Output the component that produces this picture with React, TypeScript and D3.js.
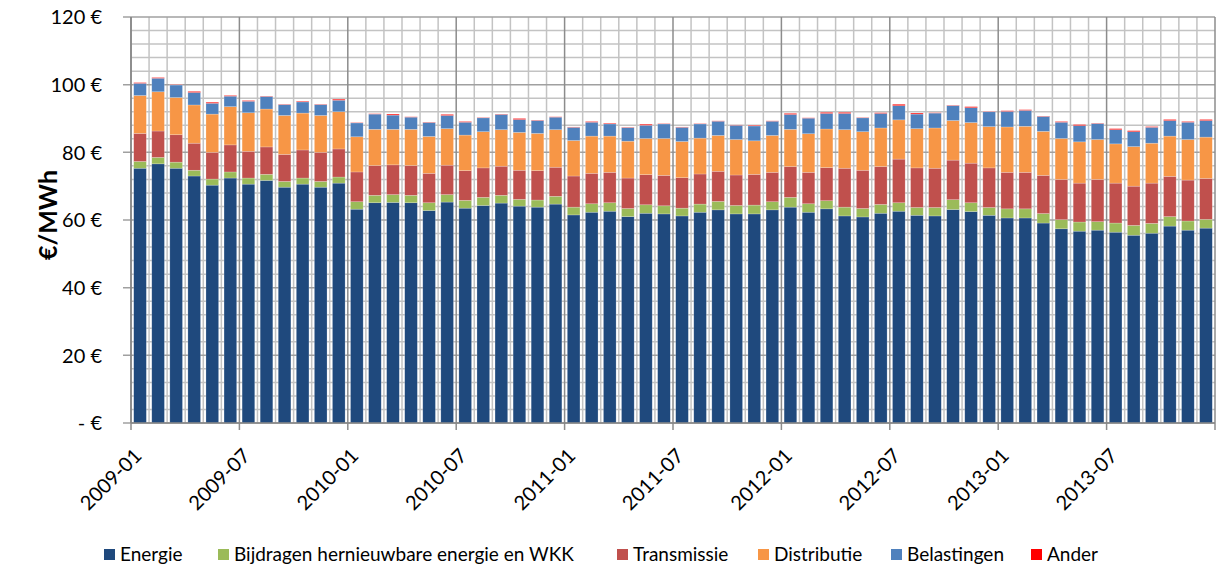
import React from "react";
import * as d3 from "d3";

const years = [2009, 2010, 2011, 2012, 2013];
const monthNums = ["01", "02", "03", "04", "05", "06", "07", "08", "09", "10", "11", "12"];
const months: string[] = years.flatMap((y) => monthNums.map((m) => `${y}-${m}`));

const seriesNames = ["Energie", "Bijdragen hernieuwbare energie en WKK", "Transmissie", "Distributie", "Belastingen", "Ander"];
const seriesColors = ["#1F497D", "#9BBB59", "#C0504D", "#F79646", "#4F81BD", "#FF0000"];

const energie = [
  75.3, 76.6, 75.3, 73.0, 70.3, 72.4, 70.6, 71.7, 69.7, 70.6, 69.7, 70.9,
  63.2, 65.1, 65.2, 65.1, 62.8, 65.3, 63.5, 64.3, 65.0, 64.1, 63.8, 64.7,
  61.5, 62.3, 62.6, 61.0, 62.0, 61.8, 61.2, 62.3, 63.0, 61.8, 61.8, 63.0,
  63.8, 62.3, 63.3, 61.2, 60.9, 62.0, 62.6, 61.4, 61.2, 63.1, 62.5, 61.4,
  60.6, 60.6, 59.1, 57.4, 56.7, 57.0, 56.4, 55.5, 56.1, 58.2, 57.0, 57.6,
];
const bijdragen = [
  2.0, 1.9, 1.8, 1.7, 1.8, 1.8, 1.8, 1.8, 1.7, 1.8, 1.7, 1.8,
  2.2, 2.2, 2.3, 2.2, 2.3, 2.2, 2.3, 2.4, 2.3, 2.0, 2.1, 2.3,
  2.3, 2.5, 2.5, 2.4, 2.5, 2.4, 2.3, 2.4, 2.5, 2.5, 2.6, 2.4,
  2.9, 2.5, 2.4, 2.6, 2.5, 2.6, 2.5, 2.3, 2.5, 2.9, 2.6, 2.3,
  2.7, 2.7, 2.8, 2.7, 2.7, 2.5, 2.7, 2.9, 2.9, 2.8, 2.7, 2.6,
];
const transmissie = [
  8.3, 7.8, 8.1, 8.0, 7.9, 8.0, 7.9, 8.1, 8.0, 8.3, 8.6, 8.3,
  8.8, 8.8, 8.8, 8.8, 8.7, 8.7, 8.8, 8.7, 8.6, 8.6, 8.7, 8.6,
  9.2, 9.0, 9.0, 9.0, 8.9, 9.0, 9.0, 8.9, 8.9, 9.0, 9.1, 8.7,
  9.1, 9.3, 9.8, 11.5, 11.3, 11.2, 12.9, 11.7, 11.6, 11.7, 11.7, 11.7,
  10.8, 10.8, 11.3, 11.9, 11.5, 12.5, 11.8, 11.6, 11.9, 11.9, 12.1, 12.1,
];
const distributie = [
  11.2, 11.6, 11.0, 11.3, 11.3, 11.3, 11.4, 11.2, 11.5, 10.9, 10.9, 11.0,
  10.4, 10.7, 10.5, 10.7, 10.9, 10.8, 10.5, 10.7, 10.8, 11.2, 11.0, 11.1,
  10.5, 11.0, 10.7, 10.9, 10.7, 10.9, 10.7, 10.6, 10.6, 10.5, 9.9, 10.9,
  11.0, 11.4, 11.4, 11.4, 11.4, 11.4, 11.6, 11.6, 11.9, 11.7, 12.0, 12.2,
  13.4, 13.6, 13.0, 12.1, 12.2, 11.8, 11.6, 11.7, 11.8, 11.9, 12.0, 12.2,
];
const belastingen = [
  3.6, 4.0, 3.7, 3.7, 3.2, 3.1, 3.4, 3.7, 3.2, 3.3, 3.2, 3.4,
  4.1, 4.5, 4.2, 3.6, 4.1, 3.9, 3.8, 4.1, 4.5, 3.8, 3.8, 3.7,
  3.9, 4.1, 3.6, 4.0, 3.9, 4.3, 4.2, 4.2, 4.2, 4.2, 4.4, 4.2,
  4.4, 4.6, 4.6, 4.8, 4.1, 4.3, 4.2, 4.3, 4.4, 4.4, 4.4, 4.4,
  4.6, 4.7, 4.4, 4.8, 4.8, 4.7, 4.2, 4.4, 4.7, 4.6, 5.1, 4.9,
];
const ander = [
  0.2, 0.2, 0.1, 0.3, 0.3, 0.2, 0.2, 0.1, 0.1, 0.2, 0.1, 0.3,
  0.1, 0.1, 0.3, 0.1, 0.1, 0.3, 0.2, 0.1, 0.1, 0.3, 0.1, 0.1,
  0.1, 0.2, 0.2, 0.1, 0.3, 0.1, 0.1, 0.1, 0.1, 0.1, 0.2, 0.1,
  0.3, 0.1, 0.3, 0.3, 0.1, 0.2, 0.4, 0.3, 0.1, 0.1, 0.3, 0.1,
  0.2, 0.2, 0.1, 0.2, 0.3, 0.1, 0.3, 0.3, 0.2, 0.3, 0.2, 0.3,
];

const yTicks = [0, 20, 40, 60, 80, 100, 120];
const yMinorStep = 4;
const labelEvery = 6;

const W = 1218;
const H = 566;
const M = { left: 131, right: 1215, top: 17, bottom: 423 };
const FONT = "Lato, 'Open Sans', sans-serif";
const legendX = [104, 218, 617, 758, 891, 1031];

export default function App() {
  const seriesData = [energie, bijdragen, transmissie, distributie, belastingen, ander];
  const rows = months.map((m, i) => {
    const r: any = { month: m };
    seriesNames.forEach((s, k) => (r[s] = seriesData[k][i]));
    return r;
  });
  const stacked = d3.stack<any>().keys(seriesNames)(rows);

  const x = d3.scaleBand<string>().domain(months).range([M.left, M.right]).paddingInner(0.3).paddingOuter(0.15);
  const y = d3.scaleLinear().domain([0, 120]).range([M.bottom, M.top]);
  const step = x.step();
  const x0 = M.left;

  const minorY = d3.range(0, 120 + 0.001, yMinorStep).filter((v) => v % 20 !== 0);
  const boundaries = d3.range(0, months.length + 1);

  const fmt = (v: number) => (v === 0 ? "- €" : `${v} €`);

  return (
    <svg width={W} height={H} style={{ display: "block", position: "absolute", left: 0, top: 0, background: "#fff" }}>
      {minorY.map((v) => (
        <line key={"mh" + v} x1={M.left} x2={M.right} y1={y(v)} y2={y(v)} stroke="#c3c3c3" strokeWidth={1.5} />
      ))}
      {boundaries.filter((i) => i % labelEvery !== 0).map((i) => (
        <line key={"mv" + i} x1={x0 + i * step} x2={x0 + i * step} y1={M.top} y2={M.bottom} stroke="#c3c3c3" strokeWidth={1.5} />
      ))}
      {yTicks.map((v) => (
        <line key={"h" + v} x1={M.left - 8} x2={M.right} y1={y(v)} y2={y(v)} stroke="#a0a0a0" strokeWidth={1.5} />
      ))}
      {boundaries.filter((i) => i % labelEvery === 0).map((i) => (
        <line key={"v" + i} x1={x0 + i * step} x2={x0 + i * step} y1={M.top} y2={M.bottom + 7} stroke="#8c8c8c" strokeWidth={1.5} />
      ))}
      {stacked.map((layer, k) => (
        <g key={layer.key} fill={seriesColors[k]}>
          {layer.map((d, i) => (
            <rect
              key={i}
              x={x(months[i])}
              width={x.bandwidth()}
              y={y(d[1])}
              height={Math.max(0, y(d[0]) - y(d[1]))}
              stroke="#ffffff"
              strokeOpacity={0.35}
              strokeWidth={0.6}
            />
          ))}
        </g>
      ))}
      <line x1={M.left} x2={M.left} y1={M.top} y2={M.bottom} stroke="#868686" strokeWidth={1.5} />
      <line x1={M.left} x2={M.right} y1={M.bottom} y2={M.bottom} stroke="#868686" strokeWidth={1.5} />
      {yTicks.map((v) => (
        <text key={"yl" + v} x={102} y={y(v)} dy="0.36em" textAnchor="end" fontFamily={FONT} fontSize={20} fill="#000">
          {fmt(v)}
        </text>
      ))}
      <text transform={`translate(57, 215) rotate(-90)`} textAnchor="middle" fontFamily={FONT} fontWeight="bold" fontSize={25} fill="#000">
        €/MWh
      </text>
      {months.map((m, i) =>
        i % labelEvery === 0 ? (
          <text
            key={"xl" + m}
            transform={`translate(${x0 + i * step + 12}, ${M.bottom + 34}) rotate(-45)`}
            textAnchor="end"
            fontFamily={FONT}
            fontSize={20}
            fill="#000"
          >
            {m}
          </text>
        ) : null
      )}
      {seriesNames.map((s, k) => (
        <g key={"lg" + s} transform={`translate(${legendX[k]}, 549)`}>
          <rect x={0} y={0} width={11} height={11} fill={seriesColors[k]} />
          <text x={16} y={11.5} fontFamily={FONT} fontSize={19} fill="#000">
            {s}
          </text>
        </g>
      ))}
    </svg>
  );
}
